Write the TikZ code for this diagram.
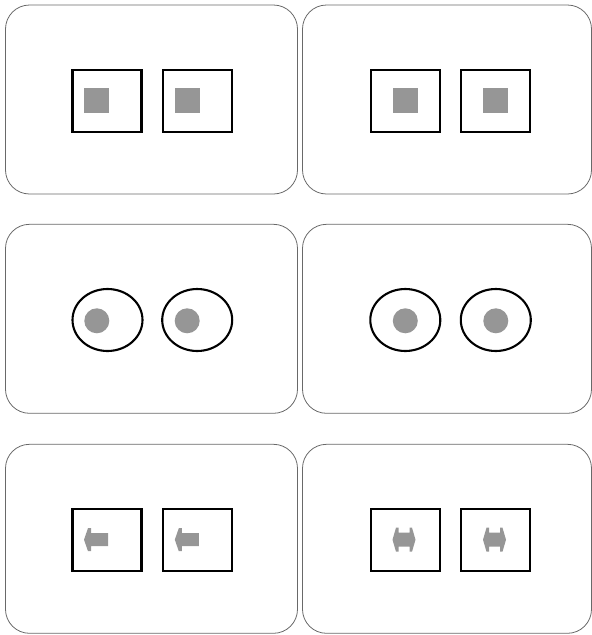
\documentclass[tikz,border=0pt]{standalone}
\usetikzlibrary{shapes.geometric}
\definecolor{grayfill}{RGB}{150,150,150}
\definecolor{panelline}{RGB}{105,105,105}
\begin{document}
\begin{tikzpicture}[x=1pt,y=-1pt,
  panel/.style={draw=panelline, line width=0.8pt, rounded corners=24pt, inner sep=0pt, minimum height=189pt},
  lpanel/.style={panel, minimum width=292pt},
  rpanel/.style={panel, minimum width=289pt},
  ibox/.style={draw=black, line width=2.1pt, minimum width=69pt, minimum height=62pt, inner sep=0pt},
  ieye/.style={draw=black, line width=2.1pt, ellipse, minimum width=70pt, minimum height=62pt, inner sep=0pt},
  gsq/.style={fill=grayfill, minimum size=25pt, inner sep=0pt},
  gdot/.style={fill=grayfill, circle, minimum size=25pt, inner sep=0pt},
  larrow/.style={fill=grayfill},
]
\useasboundingbox (0,0) rectangle (592,635);
% panels
\node[lpanel] (p11) at (151.5,99.5) {};
\node[rpanel] (p12) at (447,99.5) {};
\node[lpanel] (p21) at (151.5,318.8) {};
\node[rpanel] (p22) at (447,318.8) {};
\node[lpanel] (p31) at (151.5,538.8) {};
\node[rpanel] (p32) at (447,538.8) {};
% row 1
\node[ibox] (a1) at (107,100.6) {};
\node[ibox] (a2) at (197.8,100.6) {};
\node[ibox] (a3) at (405.2,100.6) {};
\node[ibox] (a4) at (495.7,100.6) {};
\node[gsq] (s1) at (96.5,100.6) {};
\node[gsq] (s2) at (187.3,100.6) {};
\node[gsq] (s3) at (405.2,100.6) {};
\node[gsq] (s4) at (495.7,100.6) {};
% row 2
\node[ieye] (e1) at (107.5,320) {};
\node[ieye] (e2) at (197.2,320) {};
\node[ieye] (e3) at (405.3,320) {};
\node[ieye] (e4) at (495.8,320) {};
\node[gdot] (d1) at (96.8,320.8) {};
\node[gdot] (d2) at (187.2,320.8) {};
\node[gdot] (d3) at (405.3,320.8) {};
\node[gdot] (d4) at (495.8,320.8) {};
% row 3
\node[ibox] (b1) at (107,539.7) {};
\node[ibox] (b2) at (197.8,539.7) {};
\node[ibox] (b3) at (405.2,539.7) {};
\node[ibox] (b4) at (495.7,539.7) {};
\foreach \n in {b1,b2}{
  \fill[larrow, shift={(\n.center)}] (-23,0) -- (-19,-11.5) -- (-16,-11.5) -- (-16,-6.5) -- (1,-6.5) -- (1,6.5) -- (-16,6.5) -- (-16,11.5) -- (-19,11.5) -- cycle;
}
\foreach \n in {b3,b4}{
  \fill[larrow, shift={(\n.center)}, xshift=-1.2pt] (-11.5,0) -- (-8,-12) -- (-5.5,-12) -- (-5.5,-7) -- (5.5,-7) -- (5.5,-12) -- (8,-12) -- (11.5,0) -- (8,12) -- (5.5,12) -- (5.5,7) -- (-5.5,7) -- (-5.5,12) -- (-8,12) -- cycle;
}
\end{tikzpicture}
\end{document}
